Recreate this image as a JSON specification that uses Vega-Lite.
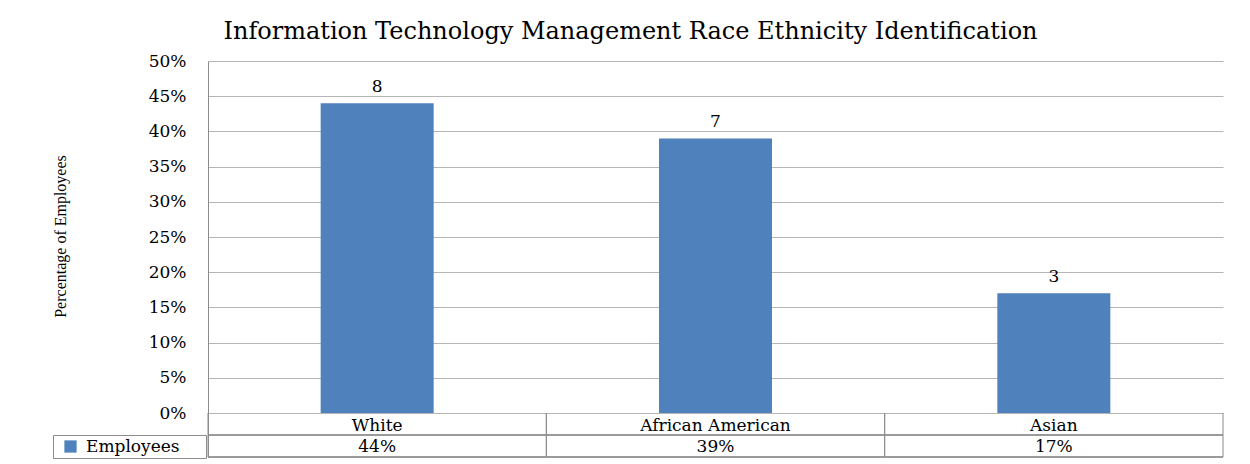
{
  "$schema": "https://vega.github.io/schema/vega-lite/v6.json",
  "width": 1015,
  "height": 396,
  "autosize": {"type": "none"},
  "padding": {"left": 208, "top": 61, "right": 27, "bottom": 7},
  "background": "white",
  "config": {"view": {"stroke": null}, "font": "DejaVu Serif"},
  "title": {
    "text": "Information Technology Management Race Ethnicity Identification",
    "font": "DejaVu Serif",
    "fontSize": 24,
    "fontWeight": "normal",
    "color": "#000000",
    "anchor": "middle",
    "frame": "group",
    "dx": -85,
    "offset": -11,
    "baseline": "alphabetic"
  },
  "data": {
    "values": [
      {"race": "White", "pct": 0.44, "count": 8},
      {"race": "African American", "pct": 0.39, "count": 7},
      {"race": "Asian", "pct": 0.17, "count": 3}
    ]
  },
  "layer": [
    {
      "mark": {"type": "bar", "color": "#4f81bd", "width": {"band": 0.334}},
      "encoding": {
        "x": {
          "field": "race",
          "type": "nominal",
          "sort": null,
          "scale": {"paddingInner": 0, "paddingOuter": 0},
          "axis": {
            "orient": "bottom",
            "offset": -44,
            "title": null,
            "labelAngle": 0,
            "domain": false,
            "ticks": false,
            "labelPadding": 17,
            "labelBaseline": "alphabetic",
            "labelFont": "DejaVu Serif",
            "labelFontSize": 17,
            "labelColor": "#000000"
          }
        },
        "y": {
          "field": "pct",
          "type": "quantitative",
          "scale": {"domain": [-0.0625, 0.5], "nice": false, "zero": false},
          "axis": {
            "values": [0, 0.05, 0.1, 0.15, 0.2, 0.25, 0.3, 0.35, 0.4, 0.45, 0.5],
            "tickCount": 20,
            "format": ".0%",
            "labelOverlap": false,
            "grid": true,
            "gridColor": "#b5b5b5",
            "gridWidth": 1,
            "domain": true,
            "domainColor": "#8c8c8c",
            "ticks": false,
            "labelPadding": 22,
            "labelFont": "DejaVu Serif",
            "labelFontSize": 17,
            "labelColor": "#000000",
            "title": "Percentage of Employees",
            "titleFont": "Liberation Serif",
            "titleFontSize": 16,
            "titleFontWeight": "normal",
            "titleColor": "#000000",
            "titleAngle": -90,
            "titleX": -148,
            "titleY": 175,
            "titleAlign": "center",
            "titleBaseline": "middle"
          }
        },
        "y2": {"datum": 0},
        "color": {
          "datum": "Employees",
          "type": "nominal",
          "scale": {"range": ["#4f81bd"]},
          "legend": {
            "orient": "none",
            "legendX": -155,
            "legendY": 374,
            "title": null,
            "symbolType": "square",
            "symbolSize": 150,
            "symbolStrokeWidth": 0,
            "symbolOffset": 6,
            "labelOffset": 7,
            "labelFont": "DejaVu Serif",
            "labelFontSize": 17,
            "labelColor": "#000000",
            "strokeColor": "#8c8c8c",
            "padding": 3,
            "labelExpr": "datum.label + '\u00a0\u00a0\u2800'"
          }
        }
      }
    },
    {
      "mark": {"type": "text", "baseline": "bottom", "dy": -7, "fontSize": 17, "font": "DejaVu Serif", "color": "#000000"},
      "encoding": {
        "x": {"field": "race", "type": "nominal", "sort": null},
        "y": {"field": "pct", "type": "quantitative"},
        "text": {"field": "count", "type": "quantitative"}
      }
    },
    {
      "mark": {"type": "text", "baseline": "alphabetic", "fontSize": 17, "font": "DejaVu Serif", "color": "#000000"},
      "encoding": {
        "x": {"field": "race", "type": "nominal", "sort": null},
        "y": {"datum": -0.0555},
        "text": {"field": "pct", "type": "quantitative", "format": ".0%"}
      }
    },
    {
      "mark": {"type": "rule", "color": "#8c8c8c", "strokeWidth": 1},
      "encoding": {
        "x": {"field": "race", "type": "nominal", "sort": null, "bandPosition": 0},
        "y": {"datum": 0},
        "y2": {"datum": -0.0625}
      }
    },
    {
      "mark": {"type": "rule", "color": "#8c8c8c", "strokeWidth": 1},
      "encoding": {
        "x": {"field": "race", "type": "nominal", "sort": null, "bandPosition": 1},
        "y": {"datum": 0},
        "y2": {"datum": -0.0625}
      }
    },
    {
      "mark": {"type": "rule", "color": "#8c8c8c", "strokeWidth": 1},
      "encoding": {"y": {"datum": -0.03125}}
    },
    {
      "mark": {"type": "rule", "color": "#8c8c8c", "strokeWidth": 1},
      "encoding": {"y": {"datum": -0.0625}}
    }
  ]
}
